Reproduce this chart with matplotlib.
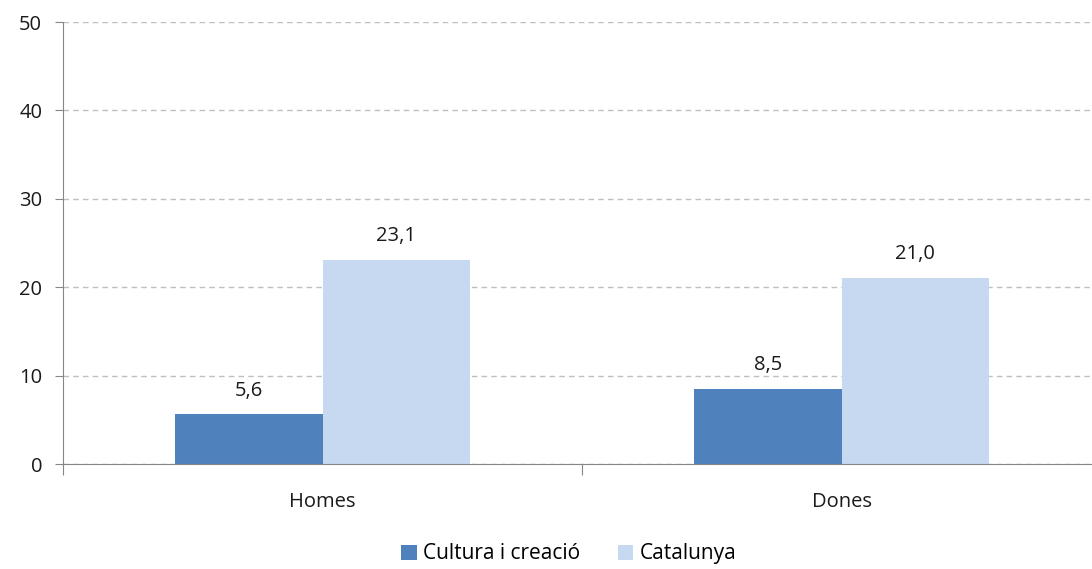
import matplotlib.pyplot as plt
import numpy as np

categories = ['Homes', 'Dones']
cultura = [5.6, 8.5]
catalunya = [23.1, 21.0]
series_names = ['Cultura i creació', 'Catalunya']

plt.rcParams['font.family'] = ['Open Sans', 'DejaVu Sans']

fig = plt.figure(figsize=(10.92, 5.69), dpi=100)
ax = fig.add_axes([63 / 1092, 105 / 569, 1038 / 1092, 442 / 569])

x = np.arange(len(categories)) + 0.5
w = 0.284

b1 = ax.bar(x - w / 2, cultura, w, color='#4F81BD', label=series_names[0], zorder=3)
b2 = ax.bar(x + w / 2, catalunya, w, color='#C6D9F1', label=series_names[1], zorder=3)

for bars in (b1, b2):
    for rect in bars:
        h = rect.get_height()
        ax.annotate(f'{h:.1f}'.replace('.', ','),
                    (rect.get_x() + rect.get_width() / 2, h),
                    xytext=(0, 10), textcoords='offset points',
                    ha='center', va='bottom', fontsize=14.5, color='#1a1a1a')

ax.set_xlim(0, 2)
ax.set_ylim(0, 50)
ax.set_yticks(range(0, 51, 10))
ax.set_xticks([0, 1, 2])
ax.set_xticklabels([])
ax.set_xticks(x, minor=True)
ax.set_xticklabels(categories, minor=True)
ax.tick_params(axis='x', which='minor', length=0, pad=20, labelsize=14.5, labelcolor='#1a1a1a')
ax.tick_params(axis='x', which='major', length=8, color='#868686', direction='out')
ax.tick_params(axis='y', length=6, color='#868686', labelsize=14.5, pad=9, labelcolor='#1a1a1a')

ax.yaxis.grid(True, linestyle=(0, (4, 3)), color='#BFBFBF', linewidth=1, zorder=0)
for s in ('top', 'right'):
    ax.spines[s].set_visible(False)
for s in ('left', 'bottom'):
    ax.spines[s].set_color('#868686')
    ax.spines[s].set_zorder(4)

fig.legend(loc='lower center', bbox_to_anchor=(0.521, -0.025), ncol=2, frameon=False,
           fontsize=15, handlelength=0.75, handleheight=0.75, handletextpad=0.3,
           columnspacing=1.8)

fig.savefig('out.png', dpi=100)
